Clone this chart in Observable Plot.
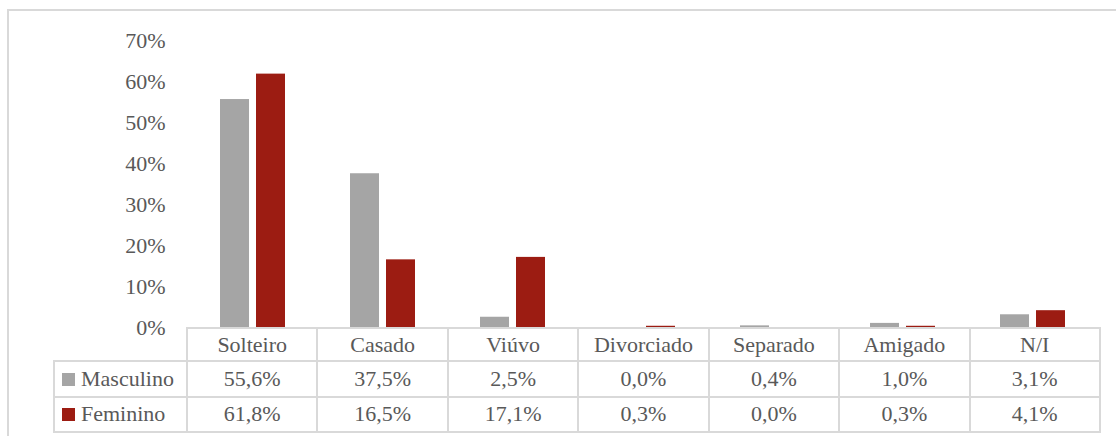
<!DOCTYPE html>
<html>
<head>
<meta charset="utf-8">
<script src="https://cdn.jsdelivr.net/npm/d3@7"></script>
<script src="https://cdn.jsdelivr.net/npm/@observablehq/plot@0.6"></script>
<style>
  html, body { margin: 0; padding: 0; background: #fff; }
  #wrap { position: relative; width: 1116px; height: 436px; overflow: hidden; font-family: "Liberation Serif", Tinos, "Times New Roman", Times, "DejaVu Serif", serif; }
  #frame { position: absolute; left: 7px; top: 9px; width: 1120px; height: 460px; border: 2px solid #d9d9d9; box-sizing: border-box; }
  #chart { position: absolute; left: 0; top: 0; }
  #tbl { position: absolute; left: 53px; top: 327px; border-collapse: collapse; table-layout: fixed; width: 1046px; color: #595959; font-size: 22px; font-family: inherit; }
  #tbl td { border: 2px solid #d9d9d9; text-align: center; padding: 0; white-space: nowrap; overflow: visible; }
  #tbl tr.head td { height: 31px; }
  #tbl tr.row td { height: 33.5px; }
  #tbl td.corner { border-top: none; border-left: none; }
  #tbl td.name { text-align: left; padding-left: 7px; }
  .key { display: inline-block; width: 13px; height: 13px; margin-right: 6px; vertical-align: 0px; }
  #probe { position: absolute; left: 300px; top: 0px; font-size: 14px; color: #000; }
</style>
</head>
<body>
<div id="wrap">
  <div id="frame"></div>
  <div id="chart"></div>
  <table id="tbl"></table>
</div>
<script>
const categories = ["Solteiro", "Casado", "Viúvo", "Divorciado", "Separado", "Amigado", "N/I"];
const series = ["Masculino", "Feminino"];
const masculino = [55.6, 37.5, 2.5, 0.0, 0.4, 1.0, 3.1];
const feminino = [61.8, 16.5, 17.1, 0.3, 0.0, 0.3, 4.1];
const yTicks = [0, 10, 20, 30, 40, 50, 60, 70];
const colors = ["#a5a5a5", "#9c1c12"];

const values = { Masculino: masculino, Feminino: feminino };
const data = [];
categories.forEach((c, i) => {
  series.forEach(s => data.push({ category: c, series: s, value: values[s][i] }));
});

const FONT = '"Liberation Serif", Tinos, "Times New Roman", Times, "DejaVu Serif", serif';

const chart = Plot.plot({
  width: 1116,
  height: 328,
  marginLeft: 186,
  marginRight: 17,
  marginTop: 40,
  marginBottom: 1,
  style: { fontFamily: FONT, fontSize: "22px", color: "#595959", background: "transparent", overflow: "visible" },
  fx: { domain: categories, padding: 0, axis: null, label: null },
  x: { domain: series, paddingInner: 0.19, paddingOuter: 0.88, axis: null, label: null },
  y: { domain: [0, 70], ticks: yTicks, tickFormat: d => d + "%", tickSize: 0, tickPadding: 23, label: null },
  color: { domain: series, range: colors },
  marks: [
    Plot.barY(data, { fx: "category", x: "series", y: "value", fill: "series" })
  ]
});
chart.querySelectorAll("text").forEach(t => { t.style.fontFamily = FONT; t.style.fontSize = "22px"; });
chart.querySelectorAll("g[aria-label='y-axis tick label']").forEach(g => { g.setAttribute("font-family", FONT); g.setAttribute("font-size", "22"); });
document.getElementById("chart").appendChild(chart);

const fmt = v => v.toFixed(1).replace(".", ",") + "%";
const tbl = document.getElementById("tbl");
const colgroup = document.createElement("colgroup");
const c0 = document.createElement("col"); c0.style.width = "133px"; colgroup.appendChild(c0);
categories.forEach(() => { const c = document.createElement("col"); c.style.width = (913 / 7) + "px"; colgroup.appendChild(c); });
tbl.appendChild(colgroup);
const head = document.createElement("tr"); head.className = "head";
const corner = document.createElement("td"); corner.className = "corner"; head.appendChild(corner);
categories.forEach(c => { const td = document.createElement("td"); td.textContent = c; head.appendChild(td); });
tbl.appendChild(head);
series.forEach((s, si) => {
  const tr = document.createElement("tr"); tr.className = "row";
  const name = document.createElement("td"); name.className = "name";
  const key = document.createElement("span"); key.className = "key"; key.style.background = colors[si];
  name.appendChild(key); name.appendChild(document.createTextNode(s));
  tr.appendChild(name);
  values[s].forEach(v => { const td = document.createElement("td"); td.textContent = fmt(v); tr.appendChild(td); });
  tbl.appendChild(tr);
});
</script>
</body>
</html>
